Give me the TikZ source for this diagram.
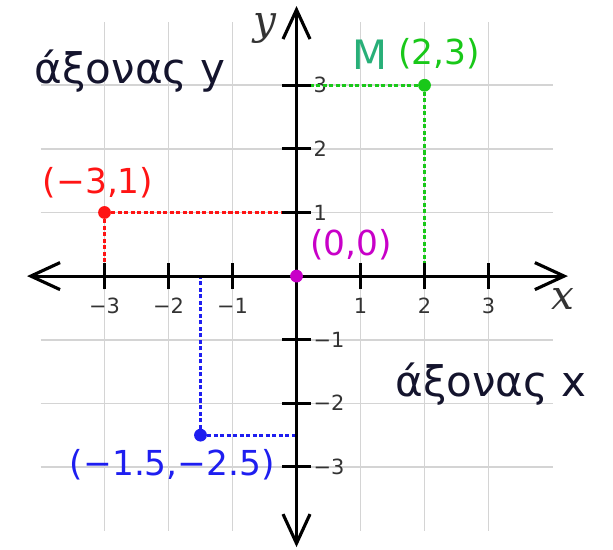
\documentclass[tikz,border=0pt]{standalone}
\usepackage{fontspec}
\setmainfont{DejaVu Sans}
\newfontfamily\axfont{DejaVu Serif}
\usetikzlibrary{arrows.meta}
\definecolor{gridc}{RGB}{212,212,212}
\definecolor{ptred}{RGB}{255,20,20}
\definecolor{ptgreen}{RGB}{25,200,25}
\definecolor{mgreen}{RGB}{40,175,120}
\definecolor{ptmag}{RGB}{200,0,200}
\definecolor{ptblue}{RGB}{30,30,240}
\definecolor{maintext}{RGB}{20,20,45}
\begin{document}
\begin{tikzpicture}[x=1cm,y=0.994cm,
  gridline/.style={draw=gridc,line width=0.7pt},
  axisline/.style={line width=1.4pt,line cap=round,
    {Straight Barb[length=13pt,width=12pt]}-{Straight Barb[length=13pt,width=12pt]}},
  tickline/.style={line width=1.3pt},
  ticklabel/.style={font=\fontsize{9.3}{10}\selectfont,text=black!80,inner sep=0pt},
  guide/.style={line width=1.3pt,dash pattern=on 1.8pt off 1.1pt},
  dot/.style={circle,inner sep=0pt,minimum size=0.2cm},
  ptlabel/.style={font=\fontsize{15.3}{17}\selectfont,inner sep=0pt,anchor=base},
  axtitle/.style={font=\fontsize{18.7}{20}\selectfont,text=maintext,inner sep=0pt,anchor=base},
  axletter/.style={font=\axfont\itshape\fontsize{18}{20}\selectfont,text=black!80,inner sep=0pt,anchor=base}]
\useasboundingbox (-4.633,-4.292) rectangle (4.945,4.340);
% grid
\foreach \i in {-3,-2,-1,1,2,3} {
  \draw[gridline] (\i,-4) -- (\i,4);
  \draw[gridline] (-4,\i) -- (4,\i);
}
% tick labels
\foreach \i/\t in {-3/−3,-2/−2,-1/−1,1/1,2/2,3/3} {
  \node[ticklabel,anchor=base] (xlab\i) at (\i,-0.58) {\t};
  \node[ticklabel,anchor=base west] (ylab\i) at (0.26,\i-0.12) {\t};
}
% point positions
\coordinate (pR) at (-3,1);
\coordinate (pRx) at (-3,0);
\coordinate (pRy) at (0,1);
\coordinate (pG) at (2,3);
\coordinate (pGx) at (2,0);
\coordinate (pGy) at (0,3);
\coordinate (pB) at (-1.5,-2.5);
\coordinate (pBx) at (-1.5,0);
\coordinate (pBy) at (0,-2.5);
\coordinate (pO) at (0,0);
% guide lines
\draw[guide,ptred] (pR) -- (pRx);
\draw[guide,ptred] (pR) -- (pRy);
\draw[guide,ptgreen] (pG) -- (pGx);
\draw[guide,ptgreen] (pG) -- (pGy);
\draw[guide,ptblue] (pB) -- (pBx);
\draw[guide,ptblue] (pB) -- (pBy);
% axes
\coordinate (axL) at (-4.21,0);
\coordinate (axR) at (4.24,0);
\coordinate (axB) at (0,-4.26);
\coordinate (axT) at (0,4.245);
\draw[axisline] (axL) -- (axR);
\draw[axisline] (axB) -- (axT);
\foreach \i in {-3,-2,-1,1,2,3} {
  \draw[tickline] (\i,-0.21) -- (\i,0.21);
  \draw[tickline] (-0.23,\i) -- (0.23,\i);
}
% dots
\node[dot,fill=ptred] (R) at (pR) {};
\node[dot,fill=ptgreen] (G) at (pG) {};
\node[dot,fill=ptblue] (B) at (pB) {};
\node[dot,fill=ptmag] (O) at (pO) {};
% labels
\node[ptlabel,text=ptred] (lR) at (-3.10,1.305) {(−3,1)};
\node[font=\fontsize{18}{20}\selectfont,text=mgreen,inner sep=0pt,anchor=base west] (lM) at (0.86,3.24) {M};
\node[ptlabel,text=ptgreen] (lG) at (2.23,3.32) {(2,3)};
\node[ptlabel,text=ptmag] (lO) at (0.85,0.33) {(0,0)};
\node[ptlabel,text=ptblue] (lB) at (-1.94,-3.13) {(−1.5,−2.5)};
\node[axtitle] (ty) at (-2.60,3.03) {άξονας y};
\node[axtitle] (tx) at (3.04,-1.90) {άξονας x};
\node[axletter] (ly) at (-0.49,3.80) {y};
\node[axletter] (lx) at (4.16,-0.53) {x};
\end{tikzpicture}
\end{document}
